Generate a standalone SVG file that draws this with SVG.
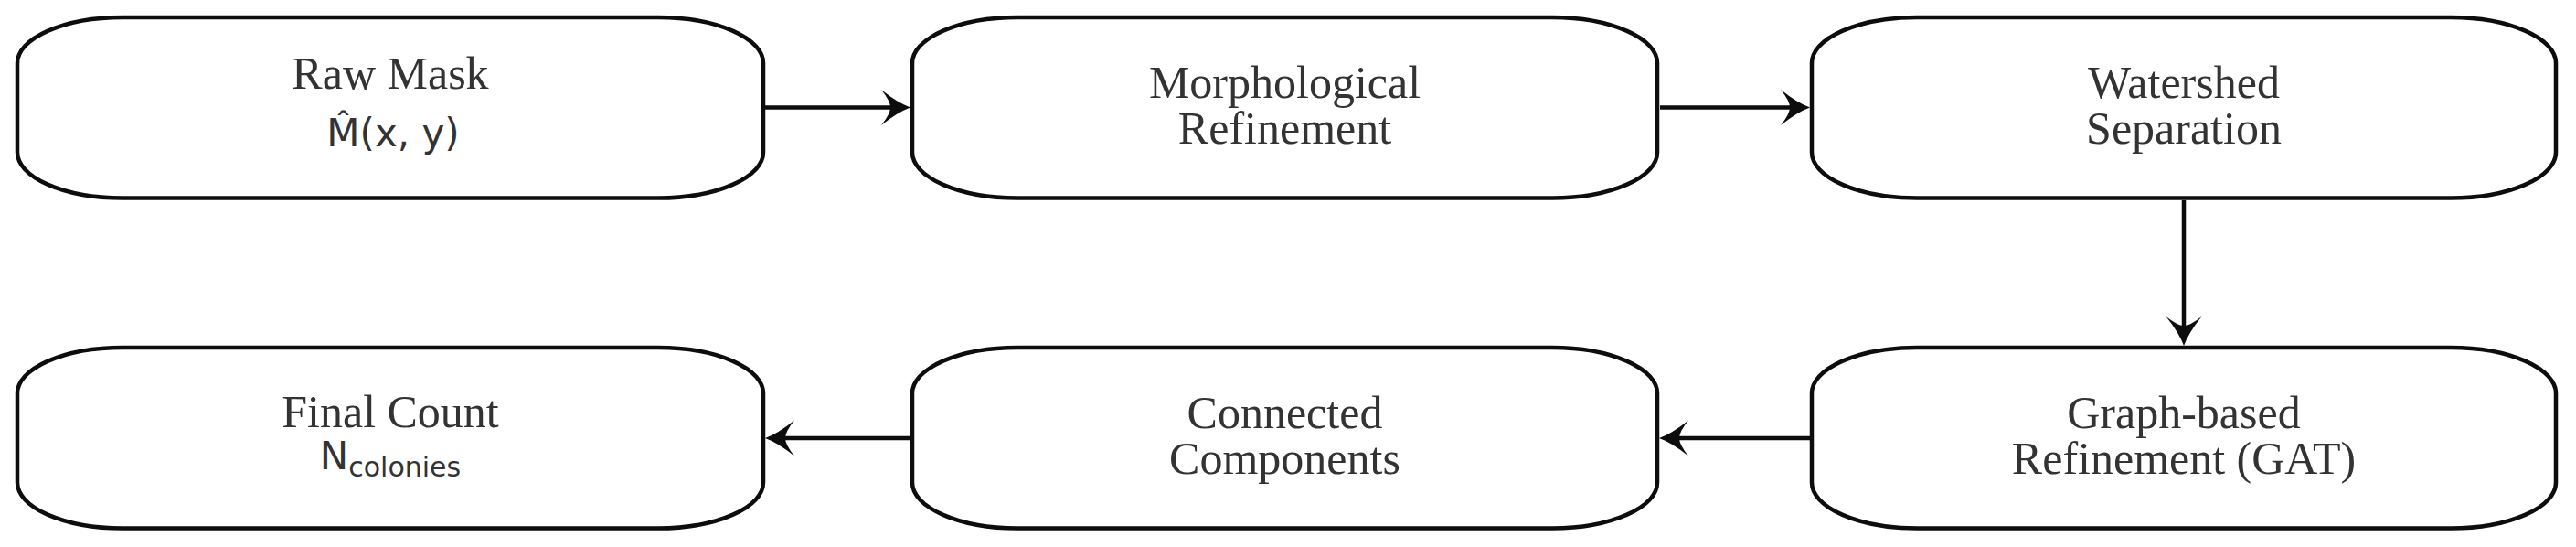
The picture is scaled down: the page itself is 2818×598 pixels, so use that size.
<svg xmlns="http://www.w3.org/2000/svg" width="2818" height="598" viewBox="0 0 2818 598">
<style>
.box{fill:#fff;stroke:#0d0d0d;stroke-width:4.5}
.lbl{font-family:"Liberation Serif","Times New Roman",serif;font-size:50px;fill:#333;text-anchor:middle}
.math{font-family:"DejaVu Sans",sans-serif;font-size:42px;fill:#333}
.sub{font-family:"DejaVu Sans",sans-serif;font-size:30px;fill:#333}
.edge{stroke:#0d0d0d;stroke-width:4.5;fill:none}
</style>
<defs>
<marker id="ah" markerUnits="userSpaceOnUse" viewBox="-33 -21 36 42" refX="-22" refY="0" markerWidth="36" markerHeight="42" orient="auto">
<path d="M0,0 Q-14,-5 -32,-19.5 Q-22,-7 -22,0 Q-22,7 -32,19.5 Q-14,5 0,0 Z" fill="#0d0d0d"/>
</marker>
</defs>
<rect width="2818" height="598" fill="#fff"/>
<g id="connectors">
<line class="edge" x1="837" y1="117.5" x2="974" y2="117.5" marker-end="url(#ah)"/>
<line class="edge" x1="1816" y1="117.5" x2="1958" y2="117.5" marker-end="url(#ah)"/>
<line class="edge" x1="2389" y1="219" x2="2389" y2="356" marker-end="url(#ah)"/>
<line class="edge" x1="1980" y1="479" x2="1837" y2="479" marker-end="url(#ah)"/>
<line class="edge" x1="996" y1="479" x2="859" y2="479" marker-end="url(#ah)"/>
</g>
<g id="raw-mask">
<rect class="box" x="19" y="19" width="816" height="197.5" rx="115" ry="50"/>
<text class="lbl" x="427" y="97">Raw Mask<tspan class="math" x="430" y="160">M̂(x, y)</tspan></text>
</g>
<g id="morphological">
<rect class="box" x="998" y="19" width="815" height="197.5" rx="115" ry="50"/>
<text class="lbl" x="1405.5" y="107">Morphological<tspan x="1405.5" dy="50">Refinement</tspan></text>
</g>
<g id="watershed">
<rect class="box" x="1982" y="19" width="814" height="197.5" rx="115" ry="50"/>
<text class="lbl" x="2389" y="107">Watershed<tspan x="2389" dy="50">Separation</tspan></text>
</g>
<g id="graph-refinement">
<rect class="box" x="1982" y="380" width="814" height="197.5" rx="115" ry="50"/>
<text class="lbl" x="2389" y="468">Graph-based<tspan x="2389" dy="50">Refinement (GAT)</tspan></text>
</g>
<g id="connected-components">
<rect class="box" x="998" y="380" width="815" height="197.5" rx="115" ry="50"/>
<text class="lbl" x="1405.5" y="468">Connected<tspan x="1405.5" dy="50">Components</tspan></text>
</g>
<g id="final-count">
<rect class="box" x="19" y="380" width="816" height="197.5" rx="115" ry="50"/>
<text class="lbl" x="427" y="467">Final Count<tspan class="math" x="427" y="513">N</tspan><tspan class="sub" dy="8">colonies</tspan></text>
</g>
</svg>
